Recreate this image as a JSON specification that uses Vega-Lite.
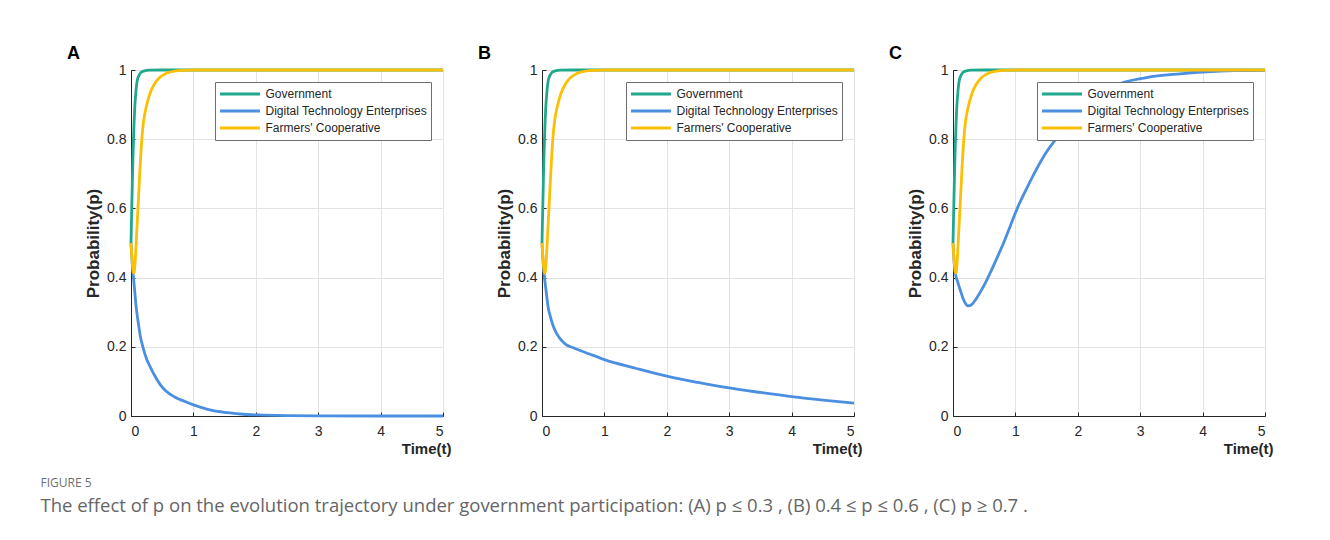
{
  "$schema": "https://vega.github.io/schema/vega-lite/v6.json",
  "background": "white",
  "padding": {"left": 40, "top": 44, "right": 10, "bottom": 20},
  "bounds": "flush",
  "spacing": 99,
  "title": {
    "text": "FIGURE 5",
    "subtitle": "The effect of  p  on the evolution trajectory under government participation: (A)  p ≤ 0.3 , (B)  0.4 ≤ p ≤ 0.6 , (C)  p ≥ 0.7 .",
    "orient": "bottom",
    "anchor": "start",
    "frame": "bounds",
    "dx": -26,
    "offset": 21,
    "font": "Open Sans",
    "fontSize": 12,
    "fontWeight": "normal",
    "color": "#707070",
    "subtitleFont": "Open Sans",
    "subtitleFontSize": 18.5,
    "subtitleColor": "#666666",
    "subtitlePadding": 7
  },
  "data": {
    "values": [
      {"panel": "A", "series": "Government", "t": 0, "p": 0.5},
      {"panel": "A", "series": "Government", "t": 0.01, "p": 0.585},
      {"panel": "A", "series": "Government", "t": 0.02, "p": 0.665},
      {"panel": "A", "series": "Government", "t": 0.03, "p": 0.74},
      {"panel": "A", "series": "Government", "t": 0.04, "p": 0.8},
      {"panel": "A", "series": "Government", "t": 0.05, "p": 0.85},
      {"panel": "A", "series": "Government", "t": 0.06, "p": 0.89},
      {"panel": "A", "series": "Government", "t": 0.08, "p": 0.94},
      {"panel": "A", "series": "Government", "t": 0.1, "p": 0.97},
      {"panel": "A", "series": "Government", "t": 0.13, "p": 0.985},
      {"panel": "A", "series": "Government", "t": 0.16, "p": 0.993},
      {"panel": "A", "series": "Government", "t": 0.2, "p": 0.997},
      {"panel": "A", "series": "Government", "t": 0.3, "p": 0.9995},
      {"panel": "A", "series": "Government", "t": 0.5, "p": 1},
      {"panel": "A", "series": "Government", "t": 1, "p": 1},
      {"panel": "A", "series": "Government", "t": 2, "p": 1},
      {"panel": "A", "series": "Government", "t": 3, "p": 1},
      {"panel": "A", "series": "Government", "t": 4, "p": 1},
      {"panel": "A", "series": "Government", "t": 5, "p": 1},
      {"panel": "A", "series": "Digital Technology Enterprises", "t": 0, "p": 0.5},
      {"panel": "A", "series": "Digital Technology Enterprises", "t": 0.02, "p": 0.44},
      {"panel": "A", "series": "Digital Technology Enterprises", "t": 0.04, "p": 0.4},
      {"panel": "A", "series": "Digital Technology Enterprises", "t": 0.06, "p": 0.36},
      {"panel": "A", "series": "Digital Technology Enterprises", "t": 0.08, "p": 0.32},
      {"panel": "A", "series": "Digital Technology Enterprises", "t": 0.1, "p": 0.29},
      {"panel": "A", "series": "Digital Technology Enterprises", "t": 0.12, "p": 0.265},
      {"panel": "A", "series": "Digital Technology Enterprises", "t": 0.15, "p": 0.23},
      {"panel": "A", "series": "Digital Technology Enterprises", "t": 0.19, "p": 0.2},
      {"panel": "A", "series": "Digital Technology Enterprises", "t": 0.25, "p": 0.165},
      {"panel": "A", "series": "Digital Technology Enterprises", "t": 0.3, "p": 0.145},
      {"panel": "A", "series": "Digital Technology Enterprises", "t": 0.37, "p": 0.12},
      {"panel": "A", "series": "Digital Technology Enterprises", "t": 0.46, "p": 0.093},
      {"panel": "A", "series": "Digital Technology Enterprises", "t": 0.56, "p": 0.072},
      {"panel": "A", "series": "Digital Technology Enterprises", "t": 0.7, "p": 0.055},
      {"panel": "A", "series": "Digital Technology Enterprises", "t": 0.85, "p": 0.043},
      {"panel": "A", "series": "Digital Technology Enterprises", "t": 1, "p": 0.032},
      {"panel": "A", "series": "Digital Technology Enterprises", "t": 1.12, "p": 0.025},
      {"panel": "A", "series": "Digital Technology Enterprises", "t": 1.3, "p": 0.016},
      {"panel": "A", "series": "Digital Technology Enterprises", "t": 1.55, "p": 0.0096},
      {"panel": "A", "series": "Digital Technology Enterprises", "t": 1.8, "p": 0.005},
      {"panel": "A", "series": "Digital Technology Enterprises", "t": 2.03, "p": 0.003},
      {"panel": "A", "series": "Digital Technology Enterprises", "t": 2.5, "p": 0.001},
      {"panel": "A", "series": "Digital Technology Enterprises", "t": 3, "p": 0.0003},
      {"panel": "A", "series": "Digital Technology Enterprises", "t": 4, "p": 0},
      {"panel": "A", "series": "Digital Technology Enterprises", "t": 5, "p": 0},
      {"panel": "A", "series": "Farmers' Cooperative", "t": 0, "p": 0.5},
      {"panel": "A", "series": "Farmers' Cooperative", "t": 0.01, "p": 0.47},
      {"panel": "A", "series": "Farmers' Cooperative", "t": 0.02, "p": 0.445},
      {"panel": "A", "series": "Farmers' Cooperative", "t": 0.03, "p": 0.425},
      {"panel": "A", "series": "Farmers' Cooperative", "t": 0.04, "p": 0.413},
      {"panel": "A", "series": "Farmers' Cooperative", "t": 0.05, "p": 0.415},
      {"panel": "A", "series": "Farmers' Cooperative", "t": 0.06, "p": 0.43},
      {"panel": "A", "series": "Farmers' Cooperative", "t": 0.07, "p": 0.455},
      {"panel": "A", "series": "Farmers' Cooperative", "t": 0.08, "p": 0.49},
      {"panel": "A", "series": "Farmers' Cooperative", "t": 0.09, "p": 0.525},
      {"panel": "A", "series": "Farmers' Cooperative", "t": 0.1, "p": 0.56},
      {"panel": "A", "series": "Farmers' Cooperative", "t": 0.12, "p": 0.63},
      {"panel": "A", "series": "Farmers' Cooperative", "t": 0.14, "p": 0.7},
      {"panel": "A", "series": "Farmers' Cooperative", "t": 0.16, "p": 0.765},
      {"panel": "A", "series": "Farmers' Cooperative", "t": 0.18, "p": 0.815},
      {"panel": "A", "series": "Farmers' Cooperative", "t": 0.2, "p": 0.85},
      {"panel": "A", "series": "Farmers' Cooperative", "t": 0.24, "p": 0.89},
      {"panel": "A", "series": "Farmers' Cooperative", "t": 0.3, "p": 0.93},
      {"panel": "A", "series": "Farmers' Cooperative", "t": 0.37, "p": 0.958},
      {"panel": "A", "series": "Farmers' Cooperative", "t": 0.45, "p": 0.977},
      {"panel": "A", "series": "Farmers' Cooperative", "t": 0.53, "p": 0.987},
      {"panel": "A", "series": "Farmers' Cooperative", "t": 0.6, "p": 0.993},
      {"panel": "A", "series": "Farmers' Cooperative", "t": 0.7, "p": 0.997},
      {"panel": "A", "series": "Farmers' Cooperative", "t": 0.85, "p": 0.999},
      {"panel": "A", "series": "Farmers' Cooperative", "t": 1, "p": 1},
      {"panel": "A", "series": "Farmers' Cooperative", "t": 2, "p": 1},
      {"panel": "A", "series": "Farmers' Cooperative", "t": 3, "p": 1},
      {"panel": "A", "series": "Farmers' Cooperative", "t": 4, "p": 1},
      {"panel": "A", "series": "Farmers' Cooperative", "t": 5, "p": 1},

      {"panel": "B", "series": "Government", "t": 0, "p": 0.5},
      {"panel": "B", "series": "Government", "t": 0.01, "p": 0.585},
      {"panel": "B", "series": "Government", "t": 0.02, "p": 0.665},
      {"panel": "B", "series": "Government", "t": 0.03, "p": 0.74},
      {"panel": "B", "series": "Government", "t": 0.04, "p": 0.8},
      {"panel": "B", "series": "Government", "t": 0.05, "p": 0.85},
      {"panel": "B", "series": "Government", "t": 0.06, "p": 0.89},
      {"panel": "B", "series": "Government", "t": 0.08, "p": 0.94},
      {"panel": "B", "series": "Government", "t": 0.1, "p": 0.97},
      {"panel": "B", "series": "Government", "t": 0.13, "p": 0.985},
      {"panel": "B", "series": "Government", "t": 0.16, "p": 0.993},
      {"panel": "B", "series": "Government", "t": 0.2, "p": 0.997},
      {"panel": "B", "series": "Government", "t": 0.3, "p": 0.9995},
      {"panel": "B", "series": "Government", "t": 0.5, "p": 1},
      {"panel": "B", "series": "Government", "t": 1, "p": 1},
      {"panel": "B", "series": "Government", "t": 2, "p": 1},
      {"panel": "B", "series": "Government", "t": 3, "p": 1},
      {"panel": "B", "series": "Government", "t": 4, "p": 1},
      {"panel": "B", "series": "Government", "t": 5, "p": 1},
      {"panel": "B", "series": "Digital Technology Enterprises", "t": 0, "p": 0.5},
      {"panel": "B", "series": "Digital Technology Enterprises", "t": 0.02, "p": 0.44},
      {"panel": "B", "series": "Digital Technology Enterprises", "t": 0.04, "p": 0.4},
      {"panel": "B", "series": "Digital Technology Enterprises", "t": 0.06, "p": 0.37},
      {"panel": "B", "series": "Digital Technology Enterprises", "t": 0.08, "p": 0.34},
      {"panel": "B", "series": "Digital Technology Enterprises", "t": 0.1, "p": 0.313},
      {"panel": "B", "series": "Digital Technology Enterprises", "t": 0.13, "p": 0.29},
      {"panel": "B", "series": "Digital Technology Enterprises", "t": 0.17, "p": 0.265},
      {"panel": "B", "series": "Digital Technology Enterprises", "t": 0.22, "p": 0.243},
      {"panel": "B", "series": "Digital Technology Enterprises", "t": 0.28, "p": 0.226},
      {"panel": "B", "series": "Digital Technology Enterprises", "t": 0.38, "p": 0.207},
      {"panel": "B", "series": "Digital Technology Enterprises", "t": 0.52, "p": 0.196},
      {"panel": "B", "series": "Digital Technology Enterprises", "t": 0.75, "p": 0.18},
      {"panel": "B", "series": "Digital Technology Enterprises", "t": 1, "p": 0.163},
      {"panel": "B", "series": "Digital Technology Enterprises", "t": 1.5, "p": 0.138},
      {"panel": "B", "series": "Digital Technology Enterprises", "t": 2, "p": 0.115},
      {"panel": "B", "series": "Digital Technology Enterprises", "t": 2.5, "p": 0.097},
      {"panel": "B", "series": "Digital Technology Enterprises", "t": 3, "p": 0.081},
      {"panel": "B", "series": "Digital Technology Enterprises", "t": 3.5, "p": 0.068},
      {"panel": "B", "series": "Digital Technology Enterprises", "t": 4, "p": 0.056},
      {"panel": "B", "series": "Digital Technology Enterprises", "t": 4.5, "p": 0.046},
      {"panel": "B", "series": "Digital Technology Enterprises", "t": 5, "p": 0.0375},
      {"panel": "B", "series": "Farmers' Cooperative", "t": 0, "p": 0.5},
      {"panel": "B", "series": "Farmers' Cooperative", "t": 0.01, "p": 0.47},
      {"panel": "B", "series": "Farmers' Cooperative", "t": 0.02, "p": 0.445},
      {"panel": "B", "series": "Farmers' Cooperative", "t": 0.03, "p": 0.425},
      {"panel": "B", "series": "Farmers' Cooperative", "t": 0.04, "p": 0.413},
      {"panel": "B", "series": "Farmers' Cooperative", "t": 0.05, "p": 0.415},
      {"panel": "B", "series": "Farmers' Cooperative", "t": 0.06, "p": 0.43},
      {"panel": "B", "series": "Farmers' Cooperative", "t": 0.07, "p": 0.455},
      {"panel": "B", "series": "Farmers' Cooperative", "t": 0.08, "p": 0.49},
      {"panel": "B", "series": "Farmers' Cooperative", "t": 0.09, "p": 0.525},
      {"panel": "B", "series": "Farmers' Cooperative", "t": 0.1, "p": 0.56},
      {"panel": "B", "series": "Farmers' Cooperative", "t": 0.12, "p": 0.63},
      {"panel": "B", "series": "Farmers' Cooperative", "t": 0.14, "p": 0.7},
      {"panel": "B", "series": "Farmers' Cooperative", "t": 0.16, "p": 0.765},
      {"panel": "B", "series": "Farmers' Cooperative", "t": 0.18, "p": 0.815},
      {"panel": "B", "series": "Farmers' Cooperative", "t": 0.2, "p": 0.85},
      {"panel": "B", "series": "Farmers' Cooperative", "t": 0.24, "p": 0.89},
      {"panel": "B", "series": "Farmers' Cooperative", "t": 0.3, "p": 0.93},
      {"panel": "B", "series": "Farmers' Cooperative", "t": 0.37, "p": 0.958},
      {"panel": "B", "series": "Farmers' Cooperative", "t": 0.45, "p": 0.977},
      {"panel": "B", "series": "Farmers' Cooperative", "t": 0.53, "p": 0.987},
      {"panel": "B", "series": "Farmers' Cooperative", "t": 0.6, "p": 0.993},
      {"panel": "B", "series": "Farmers' Cooperative", "t": 0.7, "p": 0.997},
      {"panel": "B", "series": "Farmers' Cooperative", "t": 0.85, "p": 0.999},
      {"panel": "B", "series": "Farmers' Cooperative", "t": 1, "p": 1},
      {"panel": "B", "series": "Farmers' Cooperative", "t": 2, "p": 1},
      {"panel": "B", "series": "Farmers' Cooperative", "t": 3, "p": 1},
      {"panel": "B", "series": "Farmers' Cooperative", "t": 4, "p": 1},
      {"panel": "B", "series": "Farmers' Cooperative", "t": 5, "p": 1},

      {"panel": "C", "series": "Government", "t": 0, "p": 0.5},
      {"panel": "C", "series": "Government", "t": 0.01, "p": 0.585},
      {"panel": "C", "series": "Government", "t": 0.02, "p": 0.665},
      {"panel": "C", "series": "Government", "t": 0.03, "p": 0.74},
      {"panel": "C", "series": "Government", "t": 0.04, "p": 0.8},
      {"panel": "C", "series": "Government", "t": 0.05, "p": 0.85},
      {"panel": "C", "series": "Government", "t": 0.06, "p": 0.89},
      {"panel": "C", "series": "Government", "t": 0.08, "p": 0.94},
      {"panel": "C", "series": "Government", "t": 0.1, "p": 0.97},
      {"panel": "C", "series": "Government", "t": 0.13, "p": 0.985},
      {"panel": "C", "series": "Government", "t": 0.16, "p": 0.993},
      {"panel": "C", "series": "Government", "t": 0.2, "p": 0.997},
      {"panel": "C", "series": "Government", "t": 0.3, "p": 0.9995},
      {"panel": "C", "series": "Government", "t": 0.5, "p": 1},
      {"panel": "C", "series": "Government", "t": 1, "p": 1},
      {"panel": "C", "series": "Government", "t": 2, "p": 1},
      {"panel": "C", "series": "Government", "t": 3, "p": 1},
      {"panel": "C", "series": "Government", "t": 4, "p": 1},
      {"panel": "C", "series": "Government", "t": 5, "p": 1},
      {"panel": "C", "series": "Digital Technology Enterprises", "t": 0, "p": 0.5},
      {"panel": "C", "series": "Digital Technology Enterprises", "t": 0.02, "p": 0.44},
      {"panel": "C", "series": "Digital Technology Enterprises", "t": 0.04, "p": 0.41},
      {"panel": "C", "series": "Digital Technology Enterprises", "t": 0.08, "p": 0.385},
      {"panel": "C", "series": "Digital Technology Enterprises", "t": 0.12, "p": 0.362},
      {"panel": "C", "series": "Digital Technology Enterprises", "t": 0.16, "p": 0.34},
      {"panel": "C", "series": "Digital Technology Enterprises", "t": 0.2, "p": 0.325},
      {"panel": "C", "series": "Digital Technology Enterprises", "t": 0.24, "p": 0.318},
      {"panel": "C", "series": "Digital Technology Enterprises", "t": 0.3, "p": 0.322},
      {"panel": "C", "series": "Digital Technology Enterprises", "t": 0.38, "p": 0.341},
      {"panel": "C", "series": "Digital Technology Enterprises", "t": 0.5, "p": 0.378},
      {"panel": "C", "series": "Digital Technology Enterprises", "t": 0.6, "p": 0.415},
      {"panel": "C", "series": "Digital Technology Enterprises", "t": 0.7, "p": 0.455},
      {"panel": "C", "series": "Digital Technology Enterprises", "t": 0.81, "p": 0.5},
      {"panel": "C", "series": "Digital Technology Enterprises", "t": 0.92, "p": 0.55},
      {"panel": "C", "series": "Digital Technology Enterprises", "t": 1.03, "p": 0.6},
      {"panel": "C", "series": "Digital Technology Enterprises", "t": 1.16, "p": 0.65},
      {"panel": "C", "series": "Digital Technology Enterprises", "t": 1.29, "p": 0.697},
      {"panel": "C", "series": "Digital Technology Enterprises", "t": 1.47, "p": 0.755},
      {"panel": "C", "series": "Digital Technology Enterprises", "t": 1.67, "p": 0.805},
      {"panel": "C", "series": "Digital Technology Enterprises", "t": 2, "p": 0.873},
      {"panel": "C", "series": "Digital Technology Enterprises", "t": 2.3, "p": 0.923},
      {"panel": "C", "series": "Digital Technology Enterprises", "t": 2.57, "p": 0.953},
      {"panel": "C", "series": "Digital Technology Enterprises", "t": 3.1, "p": 0.978},
      {"panel": "C", "series": "Digital Technology Enterprises", "t": 3.64, "p": 0.989},
      {"panel": "C", "series": "Digital Technology Enterprises", "t": 4.07, "p": 0.995},
      {"panel": "C", "series": "Digital Technology Enterprises", "t": 4.5, "p": 0.998},
      {"panel": "C", "series": "Digital Technology Enterprises", "t": 5, "p": 0.999},
      {"panel": "C", "series": "Farmers' Cooperative", "t": 0, "p": 0.5},
      {"panel": "C", "series": "Farmers' Cooperative", "t": 0.01, "p": 0.47},
      {"panel": "C", "series": "Farmers' Cooperative", "t": 0.02, "p": 0.445},
      {"panel": "C", "series": "Farmers' Cooperative", "t": 0.03, "p": 0.425},
      {"panel": "C", "series": "Farmers' Cooperative", "t": 0.04, "p": 0.413},
      {"panel": "C", "series": "Farmers' Cooperative", "t": 0.05, "p": 0.415},
      {"panel": "C", "series": "Farmers' Cooperative", "t": 0.06, "p": 0.43},
      {"panel": "C", "series": "Farmers' Cooperative", "t": 0.07, "p": 0.455},
      {"panel": "C", "series": "Farmers' Cooperative", "t": 0.08, "p": 0.49},
      {"panel": "C", "series": "Farmers' Cooperative", "t": 0.09, "p": 0.525},
      {"panel": "C", "series": "Farmers' Cooperative", "t": 0.1, "p": 0.56},
      {"panel": "C", "series": "Farmers' Cooperative", "t": 0.12, "p": 0.63},
      {"panel": "C", "series": "Farmers' Cooperative", "t": 0.14, "p": 0.7},
      {"panel": "C", "series": "Farmers' Cooperative", "t": 0.16, "p": 0.765},
      {"panel": "C", "series": "Farmers' Cooperative", "t": 0.18, "p": 0.815},
      {"panel": "C", "series": "Farmers' Cooperative", "t": 0.2, "p": 0.85},
      {"panel": "C", "series": "Farmers' Cooperative", "t": 0.24, "p": 0.89},
      {"panel": "C", "series": "Farmers' Cooperative", "t": 0.3, "p": 0.93},
      {"panel": "C", "series": "Farmers' Cooperative", "t": 0.37, "p": 0.958},
      {"panel": "C", "series": "Farmers' Cooperative", "t": 0.45, "p": 0.977},
      {"panel": "C", "series": "Farmers' Cooperative", "t": 0.53, "p": 0.987},
      {"panel": "C", "series": "Farmers' Cooperative", "t": 0.6, "p": 0.993},
      {"panel": "C", "series": "Farmers' Cooperative", "t": 0.7, "p": 0.997},
      {"panel": "C", "series": "Farmers' Cooperative", "t": 0.85, "p": 0.999},
      {"panel": "C", "series": "Farmers' Cooperative", "t": 1, "p": 1},
      {"panel": "C", "series": "Farmers' Cooperative", "t": 2, "p": 1},
      {"panel": "C", "series": "Farmers' Cooperative", "t": 3, "p": 1},
      {"panel": "C", "series": "Farmers' Cooperative", "t": 4, "p": 1},
      {"panel": "C", "series": "Farmers' Cooperative", "t": 5, "p": 1}
    ]
  },
  "resolve": {"scale": {"color": "independent"}, "legend": {"color": "independent"}},
  "hconcat": [
    {
      "width": 312, "height": 346,
      "title": {"text": "A", "anchor": "start", "frame": "group", "dx": -64, "offset": 0, "font": "Liberation Sans", "fontSize": 18, "fontWeight": "bold", "color": "#000000"},
      "transform": [{"filter": "datum.panel === 'A'"}],
      "mark": {"type": "line", "strokeWidth": 2.8, "interpolate": "monotone"},
      "encoding": {
        "x": {"field": "t", "type": "quantitative", "scale": {"domain": [0, 5], "nice": false}, "axis": {"title": "Time(t)", "values": [0, 1, 2, 3, 4, 5]}},
        "y": {"field": "p", "type": "quantitative", "scale": {"domain": [0, 1], "nice": false}, "axis": {"title": "Probability(p)", "values": [0, 0.2, 0.4, 0.6, 0.8, 1], "format": "~g"}},
        "color": {"field": "series", "type": "nominal", "scale": {"domain": ["Government", "Digital Technology Enterprises", "Farmers' Cooperative"], "range": ["#20a88c", "#4a8fe0", "#fbbf06"]}, "legend": {"title": null, "orient": "none", "legendX": 84, "legendY": 12}}
      }
    },
    {
      "width": 312, "height": 346,
      "title": {"text": "B", "anchor": "start", "frame": "group", "dx": -64, "offset": 0, "font": "Liberation Sans", "fontSize": 18, "fontWeight": "bold", "color": "#000000"},
      "transform": [{"filter": "datum.panel === 'B'"}],
      "mark": {"type": "line", "strokeWidth": 2.8, "interpolate": "monotone"},
      "encoding": {
        "x": {"field": "t", "type": "quantitative", "scale": {"domain": [0, 5], "nice": false}, "axis": {"title": "Time(t)", "values": [0, 1, 2, 3, 4, 5]}},
        "y": {"field": "p", "type": "quantitative", "scale": {"domain": [0, 1], "nice": false}, "axis": {"title": "Probability(p)", "values": [0, 0.2, 0.4, 0.6, 0.8, 1], "format": "~g"}},
        "color": {"field": "series", "type": "nominal", "scale": {"domain": ["Government", "Digital Technology Enterprises", "Farmers' Cooperative"], "range": ["#20a88c", "#4a8fe0", "#fbbf06"]}, "legend": {"title": null, "orient": "none", "legendX": 84, "legendY": 12}}
      }
    },
    {
      "width": 312, "height": 346,
      "title": {"text": "C", "anchor": "start", "frame": "group", "dx": -64, "offset": 0, "font": "Liberation Sans", "fontSize": 18, "fontWeight": "bold", "color": "#000000"},
      "transform": [{"filter": "datum.panel === 'C'"}],
      "mark": {"type": "line", "strokeWidth": 2.8, "interpolate": "monotone"},
      "encoding": {
        "x": {"field": "t", "type": "quantitative", "scale": {"domain": [0, 5], "nice": false}, "axis": {"title": "Time(t)", "values": [0, 1, 2, 3, 4, 5]}},
        "y": {"field": "p", "type": "quantitative", "scale": {"domain": [0, 1], "nice": false}, "axis": {"title": "Probability(p)", "values": [0, 0.2, 0.4, 0.6, 0.8, 1], "format": "~g"}},
        "color": {"field": "series", "type": "nominal", "scale": {"domain": ["Government", "Digital Technology Enterprises", "Farmers' Cooperative"], "range": ["#20a88c", "#4a8fe0", "#fbbf06"]}, "legend": {"title": null, "orient": "none", "legendX": 84, "legendY": 12}}
      }
    }
  ],
  "config": {
    "view": {"stroke": "#404040", "strokeWidth": 1},
    "axis": {
      "labelFont": "Liberation Sans", "labelFontSize": 14, "labelColor": "#262626",
      "titleFont": "Liberation Sans", "titleColor": "#262626", "titleFontWeight": "bold",
      "domainColor": "#262626", "tickColor": "#262626", "tickSize": -4,
      "gridColor": "#e3e3e3", "gridWidth": 1
    },
    "axisX": {"labelPadding": 12, "titleFontSize": 15, "titleAlign": "right", "titleAnchor": "end", "titleX": 320, "titleY": 37, "titleBaseline": "alphabetic", "labelAngle": 0},
    "axisY": {"labelPadding": 9, "titleFontSize": 17, "titleX": -33, "titleY": 173, "titleAlign": "center", "titleBaseline": "alphabetic", "titleAngle": 270},
    "legend": {
      "symbolType": "stroke", "symbolSize": 1600, "symbolStrokeWidth": 3,
      "labelFont": "Liberation Sans", "labelFontSize": 12, "labelColor": "#262626", "labelOffset": 4, "labelLimit": 300,
      "clipHeight": 17, "rowPadding": 0, "padding": 3.5,
      "strokeColor": "#6e6e6e", "fillColor": "#ffffff", "cornerRadius": 0
    }
  }
}
